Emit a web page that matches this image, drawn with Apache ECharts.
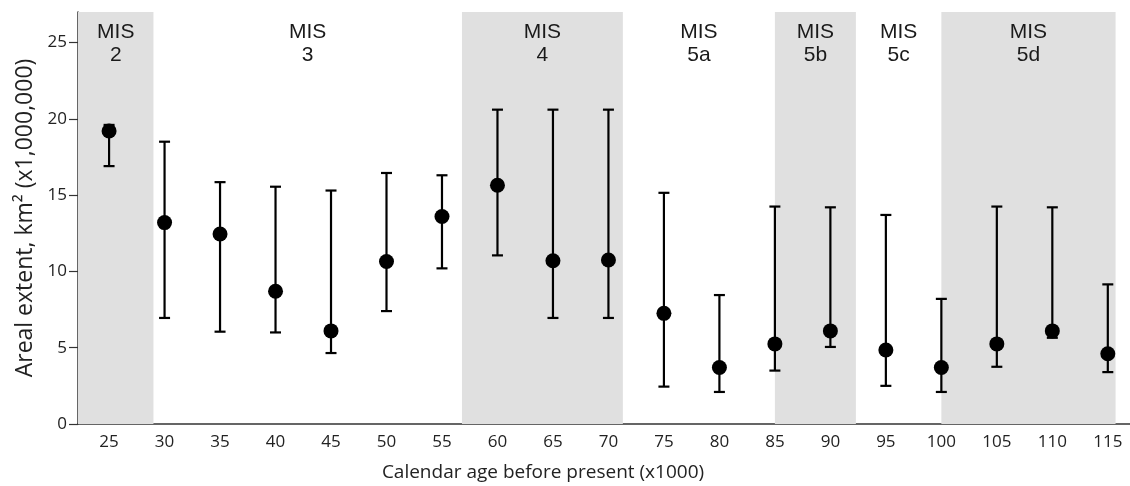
<!DOCTYPE html>
<html>
<head>
<meta charset="utf-8">
<script src="https://cdn.jsdelivr.net/npm/echarts@6/dist/echarts.min.js"></script>
<style>
html,body{margin:0;padding:0;background:#fff;}
#chart{width:1130px;height:486px;}
</style>
</head>
<body>
<div id="chart"></div>
<script>
// Calendar age before present (x1000)
const ages = [25, 30, 35, 40, 45, 50, 55, 60, 65, 70, 75, 80, 85, 90, 95, 100, 105, 110, 115];
// Areal extent (x1,000,000 km2): mean, lower and upper whisker
const means = [19.2, 13.2, 12.45, 8.7, 6.1, 10.65, 13.6, 15.65, 10.7, 10.75, 7.25, 3.7, 5.25, 6.1, 4.85, 3.7, 5.25, 6.1, 4.6];
const lows  = [16.9, 6.95, 6.05, 6.0, 4.65, 7.4, 10.2, 11.05, 6.95, 6.95, 2.45, 2.1, 3.5, 5.05, 2.5, 2.1, 3.75, 5.65, 3.4];
const highs = [19.6, 18.5, 15.85, 15.55, 15.3, 16.45, 16.3, 20.6, 20.6, 20.6, 15.15, 8.45, 14.25, 14.2, 13.7, 8.2, 14.25, 14.2, 9.15];

// Marine isotope stages
const stageNames  = ['MIS\n2', 'MIS\n3', 'MIS\n4', 'MIS\n5a', 'MIS\n5b', 'MIS\n5c', 'MIS\n5d'];
const stageStarts = [22.2, 29, 56.8, 71.3, 85, 92.3, 100];
const stageEnds   = [29, 56.8, 71.3, 85, 92.3, 100, 115.7];
const stageShaded = [true, false, true, false, true, false, true];

// Tick labels
const xTicks = ages.slice();
const yTicks = [0, 5, 10, 15, 20, 25];

const chart = echarts.init(document.getElementById('chart'), null, {renderer: 'canvas'});

const axisFont = '"Open Sans", "Noto Sans", sans-serif';

const option = {
  animation: false,
  backgroundColor: '#ffffff',
  grid: {left: 78, right: 0, top: 12, bottom: 62, containLabel: false},
  xAxis: {
    type: 'value',
    min: 22.2,
    max: 117,
    splitLine: {show: false},
    axisLine: {show: true, lineStyle: {color: '#333', width: 1.5}},
    axisTick: {show: false},
    axisLabel: {
      customValues: xTicks,
      color: '#222',
      fontFamily: axisFont,
      fontSize: 17,
      margin: 10
    }
  },
  yAxis: {
    type: 'value',
    min: 0,
    max: 27,
    splitLine: {show: false},
    axisLine: {show: true, lineStyle: {color: '#333', width: 1.5}},
    axisTick: {show: true, customValues: yTicks, length: 9, lineStyle: {color: '#333', width: 1.2}},
    axisLabel: {
      customValues: yTicks,
      color: '#222',
      fontFamily: axisFont,
      fontSize: 17,
      margin: 11
    },
    name: 'Areal extent, km\u00B2 (x1,000,000)',
    nameLocation: 'middle',
    nameGap: 41,
    nameTextStyle: {color: '#222', fontFamily: axisFont, fontSize: 23}
  },
  graphic: [{
    type: 'text',
    x: 543,
    y: 473,
    style: {
      text: 'Calendar age before present (x1000)',
      fill: '#222',
      font: '19px "Open Sans", "Noto Sans", sans-serif',
      textAlign: 'center',
      textVerticalAlign: 'middle'
    }
  }],
  series: [
    {
      type: 'scatter',
      data: [],
      silent: true,
      markArea: {
        silent: true,
        itemStyle: {color: '#e0e0e0'},
        label: {
          show: true,
          position: 'insideTop',
          distance: 9,
          color: '#1a1a1a',
          fontFamily: '"Liberation Sans", Arial, sans-serif',
          fontSize: 21,
          lineHeight: 23,
          align: 'center'
        },
        data: stageNames.map((n, i) => [
          {name: n, xAxis: stageStarts[i], yAxis: 27,
           itemStyle: {color: stageShaded[i] ? '#e0e0e0' : 'rgba(0,0,0,0)'}},
          {xAxis: stageEnds[i], yAxis: 0}
        ])
      }
    },
    {
      type: 'custom',
      z: 3,
      data: ages.map((a, i) => [a, lows[i], highs[i]]),
      renderItem: function (params, api) {
        const x = api.value(0);
        const lo = api.coord([x, api.value(1)]);
        const hi = api.coord([x, api.value(2)]);
        const hw = 5.5;
        const style = {stroke: '#000', lineWidth: 2.2};
        return {
          type: 'group',
          children: [
            {type: 'line', shape: {x1: lo[0], y1: lo[1], x2: hi[0], y2: hi[1]}, style: style},
            {type: 'line', shape: {x1: lo[0] - hw, y1: lo[1], x2: lo[0] + hw, y2: lo[1]}, style: style},
            {type: 'line', shape: {x1: hi[0] - hw, y1: hi[1], x2: hi[0] + hw, y2: hi[1]}, style: style}
          ]
        };
      }
    },
    {
      type: 'scatter',
      z: 4,
      symbol: 'circle',
      symbolSize: 15,
      itemStyle: {color: '#000', opacity: 1},
      data: ages.map((a, i) => [a, means[i]])
    }
  ]
};

chart.setOption(option);
</script>
</body>
</html>
